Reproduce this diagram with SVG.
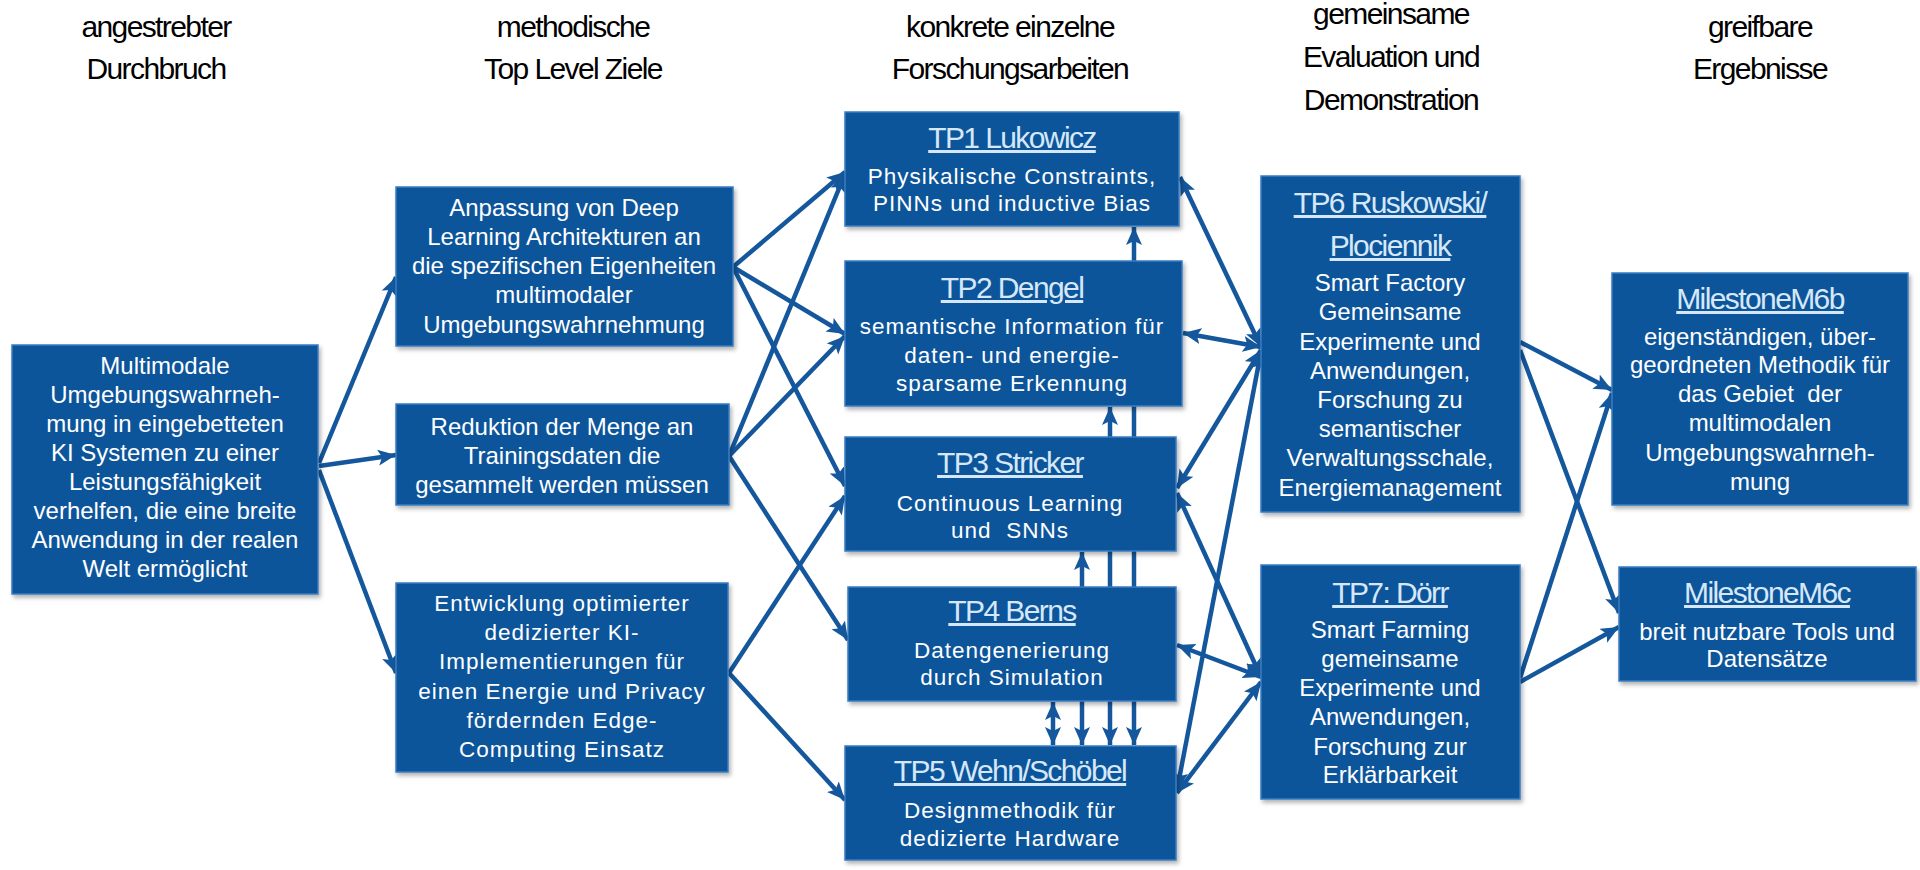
<svg xmlns="http://www.w3.org/2000/svg" width="1920" height="870" viewBox="0 0 1920 870">
<defs>
<style>
.box{fill:#11559b;stroke:#3a7cc2;stroke-width:1.5;filter:url(#sh)}
.hd{font-family:"Liberation Sans",Arial,sans-serif;font-size:30px;letter-spacing:-1.6px;fill:#000;text-anchor:middle}
.t{font-family:"Liberation Sans",Arial,sans-serif;font-size:24px;fill:#fff;text-anchor:middle}
.tw{font-family:"Liberation Sans",Arial,sans-serif;font-size:22.5px;letter-spacing:1px;fill:#fff;text-anchor:middle}
.ti{font-family:"Liberation Sans",Arial,sans-serif;font-size:30px;letter-spacing:-1.6px;fill:#d6e8f8;text-anchor:middle;text-decoration:underline}
.c{stroke:#14579c;stroke-width:4.5;fill:none;marker-end:url(#ah)}
.d{stroke:#14579c;stroke-width:4.5;fill:none;marker-end:url(#ah);marker-start:url(#ah)}
</style>
<marker id="ah" markerUnits="userSpaceOnUse" markerWidth="20" markerHeight="18" refX="18" refY="8" orient="auto-start-reverse" viewBox="0 0 20 18">
<path d="M0,0 L18,8 L0,16 L4,8 Z" fill="#14579c"/>
</marker>
<filter id="sh" x="-5%" y="-5%" width="115%" height="120%">
<feDropShadow dx="2" dy="3" stdDeviation="2" flood-color="#000" flood-opacity="0.3"/>
</filter>
</defs>
<rect width="1920" height="870" fill="#fff"/>

<g id="headers">
<text class="hd" x="156" y="37">angestrebter</text>
<text class="hd" x="156" y="79">Durchbruch</text>
<text class="hd" x="573" y="37">methodische</text>
<text class="hd" x="573" y="79">Top Level Ziele</text>
<text class="hd" x="1010" y="37">konkrete einzelne</text>
<text class="hd" x="1010" y="79">Forschungsarbeiten</text>
<text class="hd" x="1391" y="24">gemeinsame</text>
<text class="hd" x="1391" y="67">Evaluation und</text>
<text class="hd" x="1391" y="110">Demonstration</text>
<text class="hd" x="1760" y="37">greifbare</text>
<text class="hd" x="1760" y="79">Ergebnisse</text>
</g>

<g id="connectors">
<line class="d" x1="1134" y1="227" x2="1134" y2="745"/>
<line class="d" x1="1110" y1="407" x2="1110" y2="745"/>
<line class="d" x1="1082" y1="552" x2="1082" y2="745"/>
<line class="d" x1="1053" y1="702" x2="1053" y2="745"/>
<line class="c" x1="319" y1="463" x2="396" y2="277"/>
<line class="c" x1="319" y1="466" x2="396" y2="455"/>
<line class="c" x1="319" y1="470" x2="396" y2="673"/>
<line class="c" x1="733" y1="267" x2="845" y2="172"/>
<line class="c" x1="733" y1="267" x2="845" y2="334"/>
<line class="c" x1="733" y1="267" x2="845" y2="486"/>
<line class="c" x1="729" y1="456" x2="845" y2="174"/>
<line class="c" x1="729" y1="456" x2="845" y2="336"/>
<line class="c" x1="729" y1="456" x2="848" y2="640"/>
<line class="c" x1="729" y1="673" x2="845" y2="496"/>
<line class="c" x1="729" y1="673" x2="845" y2="800"/>
<line class="d" x1="1180" y1="177" x2="1261" y2="347"/>
<line class="d" x1="1183" y1="333" x2="1261" y2="347"/>
<line class="d" x1="1177" y1="488" x2="1261" y2="350"/>
<line class="d" x1="1177" y1="790" x2="1261" y2="352"/>
<line class="d" x1="1177" y1="493" x2="1261" y2="677"/>
<line class="d" x1="1177" y1="645" x2="1261" y2="677"/>
<line class="d" x1="1177" y1="793" x2="1261" y2="682"/>
<line class="c" x1="1520" y1="342" x2="1612" y2="390"/>
<line class="c" x1="1520" y1="350" x2="1619" y2="613"/>
<line class="c" x1="1520" y1="678" x2="1612" y2="393"/>
<line class="c" x1="1520" y1="682" x2="1619" y2="627"/>
</g>

<g id="L">
<rect class="box" x="12" y="345" width="306" height="249"/>
<text class="t" x="165" y="374">Multimodale</text>
<text class="t" x="165" y="403">Umgebungswahrneh-</text>
<text class="t" x="165" y="432">mung in eingebetteten</text>
<text class="t" x="165" y="461">KI Systemen zu einer</text>
<text class="t" x="165" y="490">Leistungsfähigkeit</text>
<text class="t" x="165" y="519">verhelfen, die eine breite</text>
<text class="t" x="165" y="548">Anwendung in der realen</text>
<text class="t" x="165" y="577">Welt ermöglicht</text>
</g>

<g id="G1">
<rect class="box" x="396" y="187" width="337" height="159"/>
<text class="t" x="564" y="216">Anpassung von Deep</text>
<text class="t" x="564" y="245">Learning Architekturen an</text>
<text class="t" x="564" y="274">die spezifischen Eigenheiten</text>
<text class="t" x="564" y="303">multimodaler</text>
<text class="t" x="564" y="333">Umgebungswahrnehmung</text>
</g>

<g id="G2">
<rect class="box" x="396" y="404" width="333" height="101"/>
<text class="t" x="562" y="435">Reduktion der Menge an</text>
<text class="t" x="562" y="464">Trainingsdaten die</text>
<text class="t" x="562" y="493">gesammelt werden müssen</text>
</g>

<g id="G3">
<rect class="box" x="396" y="583" width="332" height="189"/>
<text class="tw" x="562" y="611">Entwicklung optimierter</text>
<text class="tw" x="562" y="640">dedizierter KI-</text>
<text class="tw" x="562" y="669">Implementierungen für</text>
<text class="tw" x="562" y="699">einen Energie und Privacy</text>
<text class="tw" x="562" y="728">fördernden Edge-</text>
<text class="tw" x="562" y="757">Computing Einsatz</text>
</g>

<g id="TP1">
<rect class="box" x="845" y="112" width="334" height="114"/>
<text class="ti" x="1012" y="148">TP1 Lukowicz</text>
<text class="tw" x="1012" y="184">Physikalische Constraints,</text>
<text class="tw" x="1012" y="211">PINNs und inductive Bias</text>
</g>

<g id="TP2">
<rect class="box" x="845" y="261" width="337" height="145"/>
<text class="ti" x="1012" y="298">TP2 Dengel</text>
<text class="tw" x="1012" y="334">semantische Information für</text>
<text class="tw" x="1012" y="363">daten- und energie-</text>
<text class="tw" x="1012" y="391">sparsame Erkennung</text>
</g>

<g id="TP3">
<rect class="box" x="845" y="437" width="331" height="114"/>
<text class="ti" x="1010" y="473">TP3 Stricker</text>
<text class="tw" x="1010" y="511">Continuous Learning</text>
<text class="tw" x="1010" y="538" xml:space="preserve">und  SNNs</text>
</g>

<g id="TP4">
<rect class="box" x="848" y="587" width="328" height="114"/>
<text class="ti" x="1012" y="621">TP4 Berns</text>
<text class="tw" x="1012" y="658">Datengenerierung</text>
<text class="tw" x="1012" y="685">durch Simulation</text>
</g>

<g id="TP5">
<rect class="box" x="845" y="746" width="331" height="114"/>
<text class="ti" x="1010" y="781">TP5 Wehn/Schöbel</text>
<text class="tw" x="1010" y="818">Designmethodik für</text>
<text class="tw" x="1010" y="846">dedizierte Hardware</text>
</g>

<g id="TP6">
<rect class="box" x="1261" y="176" width="259" height="336"/>
<text class="ti" x="1390" y="213">TP6 Ruskowski/</text>
<text class="ti" x="1390" y="256">Plociennik</text>
<text class="t" x="1390" y="291">Smart Factory</text>
<text class="t" x="1390" y="320">Gemeinsame</text>
<text class="t" x="1390" y="350">Experimente und</text>
<text class="t" x="1390" y="379">Anwendungen,</text>
<text class="t" x="1390" y="408">Forschung zu</text>
<text class="t" x="1390" y="437">semantischer</text>
<text class="t" x="1390" y="466">Verwaltungsschale,</text>
<text class="t" x="1390" y="496">Energiemanagement</text>
</g>

<g id="TP7">
<rect class="box" x="1261" y="565" width="259" height="234"/>
<text class="ti" x="1390" y="603">TP7: Dörr</text>
<text class="t" x="1390" y="638">Smart Farming</text>
<text class="t" x="1390" y="667">gemeinsame</text>
<text class="t" x="1390" y="696">Experimente und</text>
<text class="t" x="1390" y="725">Anwendungen,</text>
<text class="t" x="1390" y="755">Forschung zur</text>
<text class="t" x="1390" y="783">Erklärbarkeit</text>
</g>

<g id="M6b">
<rect class="box" x="1612" y="273" width="296" height="232"/>
<text class="ti" x="1760" y="309">MilestoneM6b</text>
<text class="t" x="1760" y="345">eigenständigen, über-</text>
<text class="t" x="1760" y="373">geordneten Methodik für</text>
<text class="t" x="1760" y="402" xml:space="preserve">das Gebiet  der</text>
<text class="t" x="1760" y="431">multimodalen</text>
<text class="t" x="1760" y="461">Umgebungswahrneh-</text>
<text class="t" x="1760" y="490">mung</text>
</g>

<g id="M6c">
<rect class="box" x="1619" y="567" width="297" height="114"/>
<text class="ti" x="1767" y="603">MilestoneM6c</text>
<text class="t" x="1767" y="640">breit nutzbare Tools und</text>
<text class="t" x="1767" y="667">Datensätze</text>
</g>
</svg>
